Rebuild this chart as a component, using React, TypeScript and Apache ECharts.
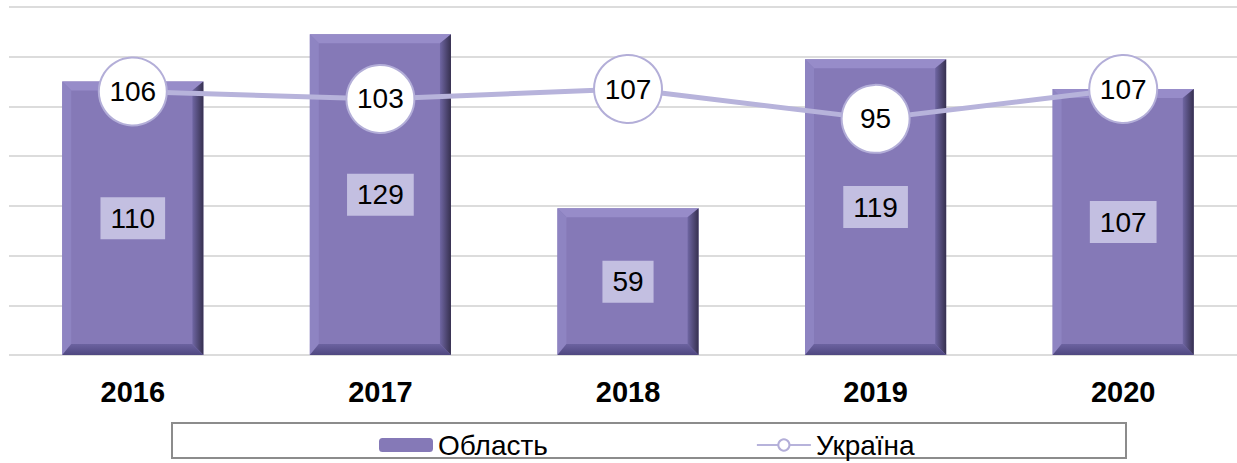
import React, { useEffect, useRef } from "react";
import * as echarts from "echarts";

const years = ["2016", "2017", "2018", "2019", "2020"];
const oblastValues = [110, 129, 59, 119, 107];
const ukraineValues = [106, 103, 107, 95, 107];
const seriesNames = ["Область", "Україна"];

const FONT = "'Liberation Sans', Arial, sans-serif";
const BAR_RATIO = 0.57;

export default function App() {
  const ref = useRef<HTMLDivElement>(null);
  useEffect(() => {
    if (!ref.current) return;
    const chart = echarts.init(ref.current, undefined, { renderer: "svg" });
    const bevel = (params: any, api: any) => {
      const top = api.coord([api.value(0), api.value(1)]);
      const base = api.coord([api.value(0), 0]);
      const w = api.size([1, 0])[0] * BAR_RATIO;
      const x0 = top[0] - w / 2;
      const x1 = top[0] + w / 2;
      const y0 = top[1];
      const y1 = base[1];
      const b = 9;
      const br = 11;
      return {
        type: "group",
        children: [
          {
            type: "polygon",
            shape: { points: [[x0, y0], [x1, y0], [x1 - br, y0 + b], [x0 + b, y0 + b]] },
            style: { fill: "#978CC9" },
          },
          {
            type: "polygon",
            shape: { points: [[x0, y0], [x0 + b, y0 + b], [x0 + b, y1 - br], [x0, y1]] },
            style: { fill: "#8E84C2" },
          },
          {
            type: "polygon",
            shape: { points: [[x1, y0], [x1, y1], [x1 - br, y1 - br], [x1 - br, y0 + b]] },
            style: {
              fill: new echarts.graphic.LinearGradient(0, 0, 1, 0, [
                { offset: 0, color: "#6F66A3" },
                { offset: 1, color: "#36304F" },
              ]),
            },
          },
          {
            type: "polygon",
            shape: { points: [[x0, y1], [x0 + b, y1 - br], [x1 - br, y1 - br], [x1, y1]] },
            style: {
              fill: new echarts.graphic.LinearGradient(0, 0, 0, 1, [
                { offset: 0, color: "#6C63A0" },
                { offset: 1, color: "#4F4780" },
              ]),
            },
          },
        ],
      };
    };
    chart.setOption({
      animation: false,
      textStyle: { fontFamily: FONT },
      grid: { left: 9, top: 7, right: 3, bottom: 108, containLabel: false },
      graphic: [
        {
          type: "rect",
          shape: { x: 172, y: 423, width: 954, height: 35 },
          style: { fill: "none", stroke: "#8C8C8C", lineWidth: 2 },
          z: 0,
        },
      ],
      legend: {
        data: seriesNames,
        left: 374,
        top: 426,
        itemWidth: 54,
        itemHeight: 14,
        itemGap: 208,
        textStyle: { fontSize: 28, color: "#000", fontFamily: FONT },
      },
      xAxis: {
        type: "category",
        data: years,
        axisLine: { show: false },
        axisTick: { show: false },
        axisLabel: {
          fontSize: 29,
          fontWeight: "bold",
          color: "#000",
          margin: 22,
          fontFamily: FONT,
        },
      },
      yAxis: {
        type: "value",
        min: 0,
        max: 140,
        interval: 20,
        axisLabel: { show: false },
        axisLine: { show: false },
        axisTick: { show: false },
        splitLine: { lineStyle: { color: "#DCDCDC", width: 2 } },
      },
      series: [
        {
          name: seriesNames[0],
          type: "bar",
          data: oblastValues,
          barWidth: BAR_RATIO * 100 + "%",
          itemStyle: { color: "#8579B7" },
          label: {
            show: true,
            position: "inside",
            fontSize: 28,
            color: "#000",
            fontFamily: FONT,
            backgroundColor: "#C3BFE1",
            padding: [8, 10, 6, 10],
          },
          z: 2,
        },
        {
          type: "custom",
          data: years.map((y, i) => [i, oblastValues[i]]),
          renderItem: bevel,
          silent: true,
          z: 3,
        },
        {
          name: seriesNames[1],
          type: "line",
          data: ukraineValues,
          symbol: "circle",
          symbolSize: 68,
          lineStyle: { color: "#B7B3DB", width: 5 },
          itemStyle: { color: "#FFFFFF", borderColor: "#B3AED8", borderWidth: 2 },
          label: {
            show: true,
            position: "inside",
            fontSize: 28,
            color: "#000",
            fontFamily: FONT,
          },
          z: 5,
        },
      ],
    });
    return () => chart.dispose();
  }, []);
  return (
    <div style={{ width: 1237, height: 463, position: "absolute", left: 0, top: 0, overflow: "hidden" }}>
      <div ref={ref} style={{ width: 1250, height: 463 }} />
    </div>
  );
}
